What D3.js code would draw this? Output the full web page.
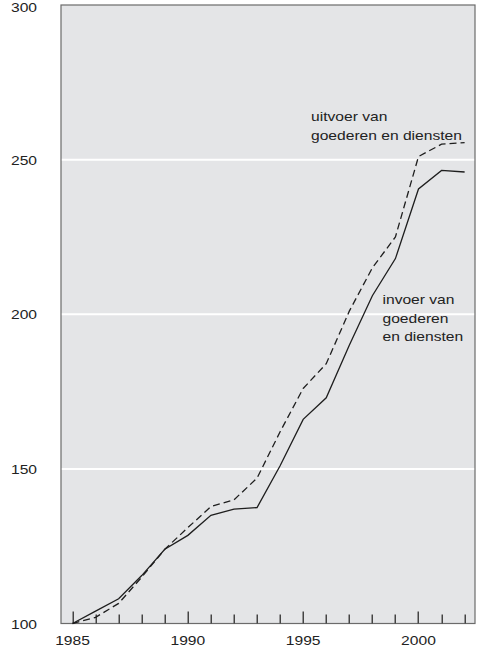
<!DOCTYPE html>
<html>
<head>
<meta charset="utf-8">
<script src="https://cdn.jsdelivr.net/npm/d3@7"></script>
<style>
  html, body { margin: 0; padding: 0; background: #ffffff; }
  svg { display: block; }
  text { font-family: "Liberation Sans", Arial, sans-serif; fill: #222; }
</style>
</head>
<body>
<svg id="chart" width="479" height="649"></svg>
<script>
// ---- data ----
const years = [1985, 1986, 1987, 1988, 1989, 1990, 1991, 1992, 1993, 1994, 1995, 1996, 1997, 1998, 1999, 2000, 2001, 2002];
const invoer = [100, 104, 108, 115.5, 124, 128.5, 135, 137, 137.5, 151, 166, 173, 190, 206, 218, 240.5, 246.5, 246];
const uitvoer = [100, 102, 106.5, 115, 124, 131, 137.8, 140, 147, 162, 176, 184, 201, 215, 225, 251, 255, 255.5];
const yTicks = [100, 150, 200, 250, 300];
const yGrid = [150, 200, 250];
const xLabelYears = [1985, 1990, 1995, 2000];
const uitvoerLabel = ["uitvoer van", "goederen en diensten"];
const invoerLabel = ["invoer van", "goederen", "en diensten"];

// ---- layout ----
const svg = d3.select("#chart");
const pLeft = 61, pRight = 475, pTop = 5, pBottom = 623.5;
const x = d3.scaleLinear().domain([1984.5, 2002.45]).range([pLeft, pRight]);
const y = d3.scaleLinear().domain([100, 300]).range([pBottom, pTop]);
const STRETCH = 1.2;

function stretch(sel) {
  sel.each(function () {
    const w = this.getComputedTextLength();
    d3.select(this).attr("textLength", w * STRETCH).attr("lengthAdjust", "spacingAndGlyphs");
  });
}

// background
svg.append("rect")
  .attr("x", pLeft).attr("y", pTop)
  .attr("width", pRight - pLeft).attr("height", pBottom - pTop)
  .attr("fill", "#e4e5e7");

// grid
svg.append("g").selectAll("line").data(yGrid).join("line")
  .attr("x1", pLeft).attr("x2", pRight)
  .attr("y1", d => y(d)).attr("y2", d => y(d))
  .attr("stroke", "#ffffff").attr("stroke-width", 2);

// frame
svg.append("rect")
  .attr("x", pLeft).attr("y", pTop)
  .attr("width", pRight - pLeft).attr("height", pBottom - pTop)
  .attr("fill", "none").attr("stroke", "#6b6b6b").attr("stroke-width", 1.2);

// x ticks (pointing up into the plot): every year, longer every 5 years
svg.append("g").selectAll("rect").data(years).join("rect")
  .attr("x", d => Math.round(x(d)) - 0.5)
  .attr("width", 1.5)
  .attr("y", d => pBottom - (d % 5 === 0 ? 12 : 9))
  .attr("height", d => (d % 5 === 0 ? 12 : 9))
  .attr("fill", "#444444");

// x labels
const xl = svg.append("g").selectAll("text").data(xLabelYears).join("text")
  .attr("x", d => x(d)).attr("y", pBottom + 21)
  .attr("text-anchor", "middle")
  .attr("font-size", 13)
  .text(d => d);
stretch(xl);

// y labels
const yl = svg.append("g").selectAll("text").data(yTicks).join("text")
  .attr("x", 37).attr("y", d => Math.max(y(d) + 5, 12))
  .attr("text-anchor", "end")
  .attr("font-size", 13)
  .text(d => d);
stretch(yl);

// lines
const line = (arr) => d3.line().x((d, i) => x(years[i])).y(d => y(d))(arr);

svg.append("path")
  .attr("d", line(uitvoer))
  .attr("fill", "none").attr("stroke", "#1e1e1e")
  .attr("stroke-width", 1.3).attr("stroke-dasharray", "7,4");

svg.append("path")
  .attr("d", line(invoer))
  .attr("fill", "none").attr("stroke", "#1e1e1e")
  .attr("stroke-width", 1.3);

// annotations
const ua = svg.append("g").selectAll("text").data(uitvoerLabel).join("text")
  .attr("x", 311).attr("y", (d, i) => 121 + i * 18.5)
  .attr("font-size", 13)
  .text(d => d);
stretch(ua);

const ia = svg.append("g").selectAll("text").data(invoerLabel).join("text")
  .attr("x", 382.5).attr("y", (d, i) => 304 + i * 18.5)
  .attr("font-size", 13)
  .text(d => d);
stretch(ia);
</script>
</body>
</html>
